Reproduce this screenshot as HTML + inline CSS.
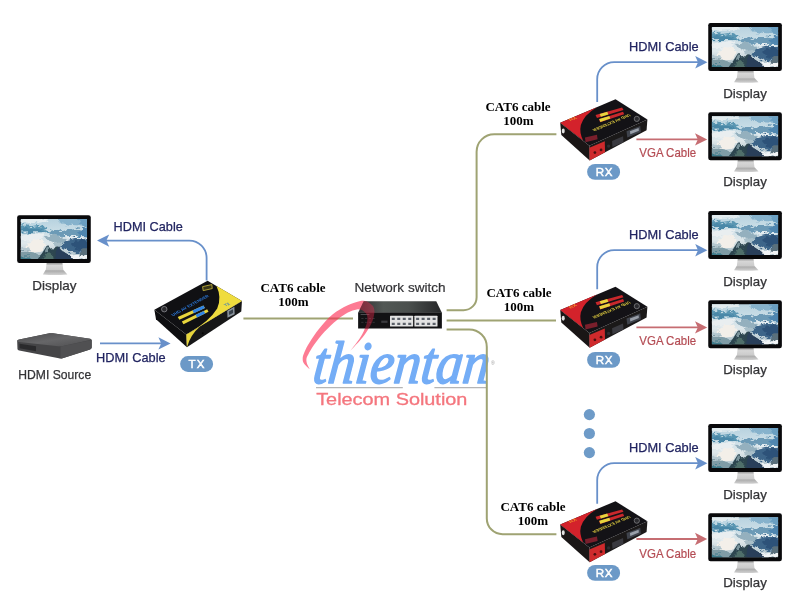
<!DOCTYPE html>
<html lang="en">
<head>
<meta charset="utf-8">
<title>HDMI extender over network switch diagram</title>
<style>
html,body{margin:0;padding:0;background:#fff;}
body{width:800px;height:613px;overflow:hidden;position:relative;}
svg{position:absolute;left:0;top:0;display:block;will-change:transform;}
text{font-family:"Liberation Sans",sans-serif;}
.lbl{font-size:12.6px;fill:#333336;stroke:#333336;stroke-width:0.25px;}
.hdmi{font-size:12.6px;fill:#222561;stroke:#222561;stroke-width:0.25px;}
.vga{font-size:12.6px;fill:#b44c54;stroke:#b44c54;stroke-width:0.2px;}
.cat{font-family:"Liberation Serif",serif;font-weight:bold;font-size:13px;fill:#000;}
.pill{font-size:11.6px;fill:#fff;stroke:#fff;stroke-width:0.45px;}
.sw{font-size:12.6px;fill:#333336;stroke:#333336;stroke-width:0.2px;}
.logo{font-family:"Liberation Serif",serif;font-style:italic;font-size:60px;fill:#74adf6;stroke:#74adf6;stroke-width:1.6px;stroke-linejoin:round;}
.tele{font-size:15.8px;fill:#f4767e;stroke:#f4767e;stroke-width:0.3px;}
.tiny{font-size:5px;fill:#9a9a9a;}
.dev{font-size:32px;font-weight:bold;}
</style>
</head>
<body>
<svg width="800" height="613" viewBox="0 0 800 613">
<defs>
  <linearGradient id="sky" x1="0" y1="0" x2="0" y2="1">
    <stop offset="0" stop-color="#b7d2df"/>
    <stop offset="0.3" stop-color="#c9dde6"/>
    <stop offset="0.6" stop-color="#dfe8eb"/>
    <stop offset="1" stop-color="#a3b9c3"/>
  </linearGradient>
  <linearGradient id="neck" x1="0" y1="0" x2="0" y2="1">
    <stop offset="0" stop-color="#8a8a8a"/>
    <stop offset="0.35" stop-color="#d6d6d6"/>
    <stop offset="1" stop-color="#c9c9c9"/>
  </linearGradient>
  <linearGradient id="base" x1="0" y1="0" x2="0" y2="1">
    <stop offset="0" stop-color="#a6a6a6"/>
    <stop offset="1" stop-color="#d2d2d2"/>
  </linearGradient>
  <linearGradient id="swtop" x1="0" y1="0" x2="1" y2="0">
    <stop offset="0" stop-color="#2c2d2f"/>
    <stop offset="0.3" stop-color="#525855"/>
    <stop offset="0.6" stop-color="#4b504e"/>
    <stop offset="1" stop-color="#262729"/>
  </linearGradient>
  <linearGradient id="srctop" x1="0" y1="0" x2="1" y2="1">
    <stop offset="0" stop-color="#4a4a4c"/>
    <stop offset="0.5" stop-color="#666668"/>
    <stop offset="1" stop-color="#4e4e50"/>
  </linearGradient>
  <clipPath id="swclip"><path d="M363.75 301.25 L436.25 301.25 L441.9 312.75 L441.9 328.5 L358.1 328.5 L358.1 312.75 Z"/></clipPath>
  <clipPath id="scr"><rect x="95" y="135" width="530" height="320"/></clipPath>
  <filter id="b1" x="-20%" y="-20%" width="140%" height="140%" color-interpolation-filters="sRGB">
    <feTurbulence type="fractalNoise" baseFrequency="0.016 0.03" numOctaves="3" seed="7" result="n"/>
    <feDisplacementMap in="SourceGraphic" in2="n" scale="70" xChannelSelector="R" yChannelSelector="G" result="d"/>
    <feGaussianBlur in="d" stdDeviation="6.5"/>
  </filter>
  <filter id="b2" x="-20%" y="-20%" width="140%" height="140%" color-interpolation-filters="sRGB">
    <feTurbulence type="fractalNoise" baseFrequency="0.03 0.03" numOctaves="2" seed="3" result="n"/>
    <feDisplacementMap in="SourceGraphic" in2="n" scale="30" xChannelSelector="R" yChannelSelector="G" result="d"/>
    <feGaussianBlur in="d" stdDeviation="4.5"/>
  </filter>

  <!-- monitor, drawn in 8x local coordinates with origin at (700,10) -->
  <g id="mon">
  <g transform="translate(700,10) scale(0.125)">
    <path d="M302 484 L428 484 L436 548 L294 548 Z" fill="url(#neck)"/>
    <path d="M292 545 L438 545 L468 578 Q370 586 272 578 Z" fill="url(#base)"/>
    <rect x="66" y="104" width="589" height="383" rx="18" fill="#09090b"/>
    <g clip-path="url(#scr)">
      <g transform="translate(95,135) scale(0.8031)">
        <rect x="-5" y="-5" width="670" height="410" fill="url(#sky)"/>
        <g filter="url(#b1)">
          <path d="M360 -20 L680 -20 L680 70 L520 60 L400 45 Z" fill="#86b2cc"/>
          <path d="M560 -20 L680 -20 L680 90 L600 60 Z" fill="#6a9fc2"/>
          <ellipse cx="120" cy="12" rx="150" ry="26" fill="#e3ecef"/>
          <path d="M-20 60 L30 52 L100 72 L170 60 L230 88 L300 118 L250 132 L120 128 L-20 130 Z" fill="#5a96b2"/>
          <path d="M-20 92 L80 84 L180 100 L250 128 L-20 134 Z" fill="#4a88a8"/>
          <path d="M270 128 L340 104 L400 122 L470 112 L540 96 L600 104 L680 80 L680 176 L560 172 L440 168 L340 166 Z" fill="#6c9ab6"/>
          <path d="M560 130 L620 100 L680 92 L680 170 L600 168 Z" fill="#4f86b0"/>
          <ellipse cx="560" cy="184" rx="120" ry="14" fill="#e4edf1"/>
          <ellipse cx="110" cy="180" rx="120" ry="36" fill="#e9eef0"/>
          <ellipse cx="150" cy="268" rx="92" ry="64" fill="#f3efe9"/>
          <path d="M240 170 L320 150 L400 178 L460 210 L430 250 L360 246 L290 220 Z" fill="#94b0be"/>
          <path d="M330 250 L400 226 L450 250 L430 290 L370 286 Z" fill="#a9bfc9"/>
          <path d="M400 246 L470 206 L540 188 L620 190 L680 196 L680 350 L520 340 L440 300 Z" fill="#3d6589"/>
          <path d="M500 250 L570 214 L680 220 L680 320 L560 316 Z" fill="#2d5279"/>
          <path d="M590 300 L680 280 L680 370 L600 362 Z" fill="#5a707c"/>
          <ellipse cx="570" cy="380" rx="100" ry="24" fill="#f1f4f6"/>
          <path d="M-20 330 L80 322 L160 340 L220 372 L220 420 L-20 420 Z" fill="#7f9ca6"/>
          <ellipse cx="40" cy="300" rx="50" ry="24" fill="#b4c7cf"/>
          <path d="M-20 372 L80 372 L100 420 L-20 420 Z" fill="#3f7c8c"/>
        </g>
        <g filter="url(#b2)">
          <path d="M160 410 L215 335 L262 260 L290 288 L318 310 L350 274 L372 272 L400 308 L445 338 L495 368 L530 410 Z" fill="#2d4650"/>
          <path d="M345 410 L350 320 L372 274 L400 308 L445 338 L495 368 L530 410 Z" fill="#293f5a"/>
          <path d="M225 400 L250 340 L285 330 L320 360 L330 410 Z" fill="#4f6f6a"/>
          <path d="M240 318 L262 270 L282 296 L270 330 Z" fill="#7b949c"/>
        </g>
      </g>
    </g>
  </g>
  </g>

  <!-- RX device, drawn in 7.273x local coordinates with origin (550,90) -->
  <g id="rxdev">
  <g transform="translate(550,90) scale(0.1375)">
    <path d="M78 238 L290 405 L292 512 L86 328 Z" fill="#1a1616"/>
    <path d="M290 405 L712 215 L706 292 L292 512 Z" fill="#1b1919"/>
    <path d="M480 68 L712 215 L290 405 L78 238 Z" fill="#131216"/>
    <path d="M78 238 L345 125 Q250 180 228 255 Q215 310 245 368 Z" fill="#d3222b"/>
    <path d="M290 420 L402 372 L404 452 L292 512 Z" fill="#cf2a2c"/>
    <circle cx="330" cy="455" r="10" fill="#4a1010"/>
    <circle cx="375" cy="436" r="10" fill="#4a1010"/>
    <path d="M335 182 L528 128 L538 146 L345 204 Z" fill="#c9282c"/>
    <path d="M360 212 L535 158 L543 176 L368 234 Z" fill="#c9282c"/>
    <path d="M365 174 L420 158 L428 178 L374 195 Z" fill="#e7d63c"/>
    <path d="M362 211 L435 189 L442 208 L370 232 Z" fill="#e7d63c"/>
    <text transform="matrix(-0.921 0.39 -0.786 -0.619 576 174)" x="0" y="0" class="dev" fill="#d9c63e" textLength="290" lengthAdjust="spacingAndGlyphs">UHD AV EXTENDER</text>
    <circle cx="635" cy="210" r="19" fill="#2a2a2e" stroke="#8c8c90" stroke-width="5"/>
    <path d="M258 345 L345 325 L350 358 L262 380 Z" fill="#7a1f2c"/>
    <text transform="matrix(0.921 -0.39 0.786 0.619 152 228)" x="0" y="0" class="dev" fill="#f08a2a" textLength="56" lengthAdjust="spacingAndGlyphs">RX</text>
    <ellipse cx="100" cy="298" rx="11" ry="18" fill="#e4e4e4"/>
    <path d="M560 300 L660 262 L664 306 L566 346 Z" fill="#3f434c"/>
    <path d="M585 300 L648 276 L650 296 L588 322 Z" fill="#9aa0aa"/>
    <path d="M455 370 L535 336 L538 380 L458 414 Z" fill="#3a3a40"/>
    <circle cx="430" cy="408" r="12" fill="#2e2e33"/>
  </g>
  </g>
</defs>

<!-- watermark -->
<g>
  <text x="0" y="0" transform="translate(311.8,383) skewX(-6)" class="logo" textLength="176.5" lengthAdjust="spacingAndGlyphs">thientan</text>
  <path d="M316 387.6 L402.8 387.6 M434.4 387.6 L486.6 387.6" stroke="#b5b5b5" stroke-width="1.2" fill="none"/>
  <text x="316.2" y="404.6" class="tele" textLength="151.2" lengthAdjust="spacingAndGlyphs">Telecom Solution</text>
  <text x="491" y="364.6" class="tiny">®</text>
</g>

<!-- CAT6 runs -->
<g fill="none" stroke="#9fa373" stroke-width="2">
  <path d="M243.4 318.4 L353 318.4"/>
  <path d="M446.6 310.2 L463.6 310.2 A13 13 0 0 0 476.6 297.2 L476.6 151.8 A17.6 17.6 0 0 1 494.2 134.2 L556.4 134.2"/>
  <path d="M446.6 320.4 L556 320.4"/>
  <path d="M446.6 329.4 L469.2 329.4 A17.6 17.6 0 0 1 486.8 347 L486.8 518.4 A15.8 15.8 0 0 0 502.6 534.2 L556.4 534.2"/>
</g>

<path d="M309.7 369.1 C308.7 368.2 305.1 365.2 304.0 363.4 C302.8 361.6 302.6 360.4 302.7 358.5 C302.7 356.6 303.3 354.7 304.5 352.0 C305.6 349.3 307.2 346.1 309.7 342.2 C312.2 338.3 315.7 333.0 319.5 328.3 C323.3 323.7 327.9 318.3 332.5 314.5 C337.1 310.7 342.6 307.7 347.2 305.5 C351.8 303.3 357.0 301.8 360.3 301.1 C363.5 300.4 364.7 300.7 366.8 301.4 C368.8 302.2 371.2 303.9 372.5 305.5 C373.8 307.1 374.4 308.9 374.4 311.2 C374.5 313.5 373.8 316.6 373.0 319.4 C372.1 322.1 370.9 324.5 369.2 327.5 C367.5 330.5 365.8 333.4 362.7 337.3 C359.6 341.2 352.5 348.5 350.5 350.7L350.5 350.7 C352.1 348.5 357.9 341.3 360.4 337.3 C362.9 333.3 364.5 329.7 365.6 326.7 C366.8 323.7 367.3 321.5 367.4 319.4 C367.6 317.3 367.3 315.7 366.5 314.1 C365.6 312.6 363.8 311.0 362.2 310.2 C360.6 309.4 359.1 309.0 356.7 309.4 C354.3 309.8 351.1 310.8 347.9 312.5 C344.6 314.3 341.0 316.6 337.1 319.9 C333.2 323.1 328.4 327.5 324.5 331.8 C320.7 336.0 316.6 341.4 313.9 345.1 C311.2 348.9 309.6 351.9 308.4 354.3 C307.1 356.6 306.6 357.7 306.4 359.3 C306.2 361.0 306.7 362.6 307.2 364.2 C307.8 365.9 309.3 368.3 309.7 369.1 Z" fill="#fb2a50" fill-opacity="0.62"/>
<!-- switch -->
<text x="354.4" y="292.4" class="sw" textLength="91.2" lengthAdjust="spacingAndGlyphs">Network switch</text>
<g transform="translate(350,295) scale(0.125)">
  <path d="M110 50 L690 50 L735 142 L65 142 Z" fill="url(#swtop)"/>
  <rect x="65" y="140" width="670" height="128" fill="#121214"/>
  <rect x="320" y="165" width="185" height="86" rx="4" fill="#e3e3e3"/>
  <rect x="515" y="165" width="185" height="86" rx="4" fill="#e3e3e3"/>
  <g fill="#5b6068">
    <rect x="334" y="182" width="24" height="18"/><rect x="378" y="182" width="24" height="18"/><rect x="422" y="182" width="24" height="18"/><rect x="466" y="182" width="24" height="18"/>
    <rect x="334" y="222" width="24" height="18"/><rect x="378" y="222" width="24" height="18"/><rect x="422" y="222" width="24" height="18"/><rect x="466" y="222" width="24" height="18"/>
    <rect x="529" y="182" width="24" height="18"/><rect x="573" y="182" width="24" height="18"/><rect x="617" y="182" width="24" height="18"/><rect x="661" y="182" width="24" height="18"/>
    <rect x="529" y="222" width="24" height="18"/><rect x="573" y="222" width="24" height="18"/><rect x="617" y="222" width="24" height="18"/><rect x="661" y="222" width="24" height="18"/>
  </g>
  <rect x="85" y="152" width="70" height="8" fill="#4b4b4f"/>
  <rect x="250" y="205" width="50" height="18" fill="#3a3a3e"/>
  <g fill="#3c3c40"><rect x="90" y="185" width="18" height="6"/><rect x="120" y="185" width="18" height="6"/><rect x="150" y="185" width="18" height="6"/><rect x="180" y="185" width="18" height="6"/><rect x="90" y="215" width="18" height="6"/><rect x="120" y="215" width="18" height="6"/><rect x="150" y="215" width="18" height="6"/><rect x="180" y="215" width="18" height="6"/></g>
</g>

<!-- watermark swoosh over the switch -->
<path d="M309.7 369.1 C308.7 368.2 305.1 365.2 304.0 363.4 C302.8 361.6 302.6 360.4 302.7 358.5 C302.7 356.6 303.3 354.7 304.5 352.0 C305.6 349.3 307.2 346.1 309.7 342.2 C312.2 338.3 315.7 333.0 319.5 328.3 C323.3 323.7 327.9 318.3 332.5 314.5 C337.1 310.7 342.6 307.7 347.2 305.5 C351.8 303.3 357.0 301.8 360.3 301.1 C363.5 300.4 364.7 300.7 366.8 301.4 C368.8 302.2 371.2 303.9 372.5 305.5 C373.8 307.1 374.4 308.9 374.4 311.2 C374.5 313.5 373.8 316.6 373.0 319.4 C372.1 322.1 370.9 324.5 369.2 327.5 C367.5 330.5 365.8 333.4 362.7 337.3 C359.6 341.2 352.5 348.5 350.5 350.7L350.5 350.7 C352.1 348.5 357.9 341.3 360.4 337.3 C362.9 333.3 364.5 329.7 365.6 326.7 C366.8 323.7 367.3 321.5 367.4 319.4 C367.6 317.3 367.3 315.7 366.5 314.1 C365.6 312.6 363.8 311.0 362.2 310.2 C360.6 309.4 359.1 309.0 356.7 309.4 C354.3 309.8 351.1 310.8 347.9 312.5 C344.6 314.3 341.0 316.6 337.1 319.9 C333.2 323.1 328.4 327.5 324.5 331.8 C320.7 336.0 316.6 341.4 313.9 345.1 C311.2 348.9 309.6 351.9 308.4 354.3 C307.1 356.6 306.6 357.7 306.4 359.3 C306.2 361.0 306.7 362.6 307.2 364.2 C307.8 365.9 309.3 368.3 309.7 369.1 Z" fill="#fb2a50" fill-opacity="0.38" clip-path="url(#swclip)"/>

<!-- left display -->
<use href="#mon" x="-691.1" y="192.2"/>
<text x="32.3" y="290.3" class="lbl" textLength="44.2" lengthAdjust="spacingAndGlyphs">Display</text>

<!-- HDMI source, 7.273x local coordinates with origin (0,320) -->
<g transform="translate(0,320) scale(0.1375)">
  <path d="M125 152 Q125 146 140 142 L360 97 Q372 95 385 97 L655 136 Q667 139 667 146 L667 200 Q667 208 655 214 L455 278 Q442 282 428 279 L140 222 Q128 219 127 210 Z" fill="#454547"/>
  <path d="M125 152 Q125 146 140 142 L360 97 Q372 95 385 97 L655 136 Q667 139 655 145 L450 190 Q438 192 425 190 L140 160 Q126 158 125 152 Z" fill="url(#srctop)"/>
  <path d="M440 192 L667 146 L667 200 Q667 208 655 214 L455 278 Q447 281 440 280 Z" fill="#505052"/>
  <path d="M142 172 L262 190 L262 228 L142 206 Z" fill="#2a2a2c"/>
</g>
<text x="18.3" y="378.7" class="lbl" textLength="72.9" lengthAdjust="spacingAndGlyphs">HDMI Source</text>

<!-- left arrows -->
<path d="M206.6 280.4 L206.6 258 A17.4 17.4 0 0 0 189.2 240.6 L106 240.6" fill="none" stroke="#6890ca" stroke-width="1.8"/>
<path d="M97 240.6 L109.2 234.4 L106.4 240.6 L109.2 246.8 Z" fill="#6890ca"/>
<text x="113.6" y="231" class="hdmi" textLength="69.2" lengthAdjust="spacingAndGlyphs">HDMI Cable</text>
<path d="M100 343.4 L162 343.4" fill="none" stroke="#6890ca" stroke-width="1.8"/>
<path d="M170.6 343.4 L158.4 337.2 L161.2 343.4 L158.4 349.59999999999997 Z" fill="#6890ca"/>
<text x="96" y="362" class="hdmi" textLength="69.6" lengthAdjust="spacingAndGlyphs">HDMI Cable</text>

<!-- TX device, 7.273x local coordinates with origin (145,270) -->
<g transform="translate(145,270) scale(0.1375)">
  <path d="M68 290 L300 470 L305 562 L80 358 Z" fill="#0e0e10"/>
  <path d="M300 470 L705 225 L700 302 L305 562 Z" fill="#171718"/>
  <path d="M455 78 L705 225 L300 470 L68 290 Z" fill="#101013"/>
  <path d="M520 116 L705 225 L330 452 Q470 370 525 280 Q560 200 520 116 Z" fill="#efdc3e"/>
  <path d="M300 470 L400 410 Q330 470 305 562 Z" fill="#e6d43c"/>
  <path d="M238 342 L425 258 L436 276 L250 362 Z" fill="#e8d53c"/>
  <path d="M268 374 L452 286 L462 304 L280 394 Z" fill="#e8d53c"/>
  <path d="M345 294 L425 258 L436 276 L356 314 Z" fill="#2f83e6"/>
  <path d="M368 326 L428 298 L438 316 L378 346 Z" fill="#2f83e6"/>
  <text transform="matrix(0.877 -0.48 0.79 0.613 206 336)" x="0" y="0" class="dev" fill="#2b7be0" textLength="300" lengthAdjust="spacingAndGlyphs">UHD AV EXTENDER</text>
  <circle cx="140" cy="285" r="20" fill="#2a2a2e" stroke="#9a9a9e" stroke-width="5"/>
  <path d="M419 121 L486 106 L489 135 L423 150 Z" fill="#3a3618" stroke="#c9b83c" stroke-width="6"/>
  <text transform="matrix(0.877 -0.48 0.79 0.613 588 266)" x="0" y="0" class="dev" fill="#2f78c8" textLength="38" lengthAdjust="spacingAndGlyphs" style="font-size:30px">TX</text>
  <path d="M598 296 L650 268 L652 322 L600 348 Z" fill="#8a939c"/>
  <path d="M610 302 L640 286 L641 312 L611 328 Z" fill="#39424c"/>
  <circle cx="420" cy="460" r="7" fill="#050505"/>
</g>
<rect x="180.1" y="356.1" width="33" height="15.8" rx="7.9" fill="#6c99c7"/>
<text x="188.4" y="368" class="pill" textLength="16.0" lengthAdjust="spacing">TX</text>

<text x="293" y="291.8" class="cat" text-anchor="middle">CAT6 cable</text>
<text x="293.4" y="305.8" class="cat" text-anchor="middle">100m</text>
<text x="518" y="111.2" class="cat" text-anchor="middle">CAT6 cable</text>
<text x="518.4" y="125" class="cat" text-anchor="middle">100m</text>
<text x="519" y="297" class="cat" text-anchor="middle">CAT6 cable</text>
<text x="519" y="311" class="cat" text-anchor="middle">100m</text>
<text x="533" y="511" class="cat" text-anchor="middle">CAT6 cable</text>
<text x="533" y="525" class="cat" text-anchor="middle">100m</text>

<!-- continuation dots -->
<circle cx="589.4" cy="414.6" r="5.6" fill="#6e9bc8"/>
<circle cx="589.4" cy="433.5" r="5.6" fill="#6e9bc8"/>
<circle cx="589.4" cy="452.6" r="5.6" fill="#6e9bc8"/>

<!-- receiver group, offset 0 -->
<path d="M597.2 102.0 L597.2 79.2 A17 17 0 0 1 614.2 62.2 L699 62.2" fill="none" stroke="#6890ca" stroke-width="1.8"/>
<path d="M707.4 62.2 L695.1999999999999 56.0 L698.0 62.2 L695.1999999999999 68.4 Z" fill="#6890ca"/>
<path d="M636.4 139.4 L699 139.4" fill="none" stroke="#c66d72" stroke-width="1.8"/>
<path d="M707.2 139.4 L695.0 133.20000000000002 L697.8000000000001 139.4 L695.0 145.6 Z" fill="#c66d72"/>
<text x="629" y="51.3" class="hdmi" textLength="69.6" lengthAdjust="spacingAndGlyphs">HDMI Cable</text>
<text x="639.3" y="156.7" class="vga" textLength="56.8" lengthAdjust="spacingAndGlyphs">VGA Cable</text>
<use href="#mon" x="0" y="0"/>
<text x="723.2" y="97.8" class="lbl" textLength="43.6" lengthAdjust="spacingAndGlyphs">Display</text>
<use href="#mon" x="0" y="89.3"/>
<text x="723.2" y="185.7" class="lbl" textLength="43.6" lengthAdjust="spacingAndGlyphs">Display</text>
<use href="#rxdev" x="-0.5" y="0.0"/>
<rect x="587.1" y="164" width="33" height="15.8" rx="7.9" fill="#6c99c7"/>
<text x="595.8" y="175.9" class="pill" textLength="16.8" lengthAdjust="spacing">RX</text>

<!-- receiver group, offset 188 -->
<path d="M597.2 289.3 L597.2 267.2 A17 17 0 0 1 614.2 250.2 L699 250.2" fill="none" stroke="#6890ca" stroke-width="1.8"/>
<path d="M707.4 250.2 L695.1999999999999 244.0 L698.0 250.2 L695.1999999999999 256.4 Z" fill="#6890ca"/>
<path d="M636.4 327.4 L699 327.4" fill="none" stroke="#c66d72" stroke-width="1.8"/>
<path d="M707.2 327.4 L695.0 321.2 L697.8000000000001 327.4 L695.0 333.59999999999997 Z" fill="#c66d72"/>
<text x="629" y="239.3" class="hdmi" textLength="69.6" lengthAdjust="spacingAndGlyphs">HDMI Cable</text>
<text x="639.3" y="344.7" class="vga" textLength="56.8" lengthAdjust="spacingAndGlyphs">VGA Cable</text>
<use href="#mon" x="0" y="188"/>
<text x="723.2" y="285.8" class="lbl" textLength="43.6" lengthAdjust="spacingAndGlyphs">Display</text>
<use href="#mon" x="0" y="277.3"/>
<text x="723.2" y="373.7" class="lbl" textLength="43.6" lengthAdjust="spacingAndGlyphs">Display</text>
<use href="#rxdev" x="-0.5" y="187.3"/>
<rect x="587.1" y="352" width="33" height="15.8" rx="7.9" fill="#6c99c7"/>
<text x="595.8" y="363.9" class="pill" textLength="16.8" lengthAdjust="spacing">RX</text>

<!-- receiver group, offset 401 -->
<path d="M597.2 503.8 L597.2 480.2 A17 17 0 0 1 614.2 463.2 L699 463.2" fill="none" stroke="#6890ca" stroke-width="1.8"/>
<path d="M707.4 463.2 L695.1999999999999 457.0 L698.0 463.2 L695.1999999999999 469.4 Z" fill="#6890ca"/>
<path d="M636.4 539.0 L699 539.0" fill="none" stroke="#c66d72" stroke-width="1.8"/>
<path d="M707.2 539.0 L695.0 532.8 L697.8000000000001 539.0 L695.0 545.2 Z" fill="#c66d72"/>
<text x="629" y="452.3" class="hdmi" textLength="69.6" lengthAdjust="spacingAndGlyphs">HDMI Cable</text>
<text x="639.3" y="557.7" class="vga" textLength="56.8" lengthAdjust="spacingAndGlyphs">VGA Cable</text>
<use href="#mon" x="0" y="401"/>
<text x="723.2" y="498.8" class="lbl" textLength="43.6" lengthAdjust="spacingAndGlyphs">Display</text>
<use href="#mon" x="0" y="490.3"/>
<text x="723.2" y="586.7" class="lbl" textLength="43.6" lengthAdjust="spacingAndGlyphs">Display</text>
<use href="#rxdev" x="-0.5" y="401.8"/>
<rect x="587.1" y="565" width="33" height="15.8" rx="7.9" fill="#6c99c7"/>
<text x="595.8" y="576.9" class="pill" textLength="16.8" lengthAdjust="spacing">RX</text>

</svg>
</body>
</html>
